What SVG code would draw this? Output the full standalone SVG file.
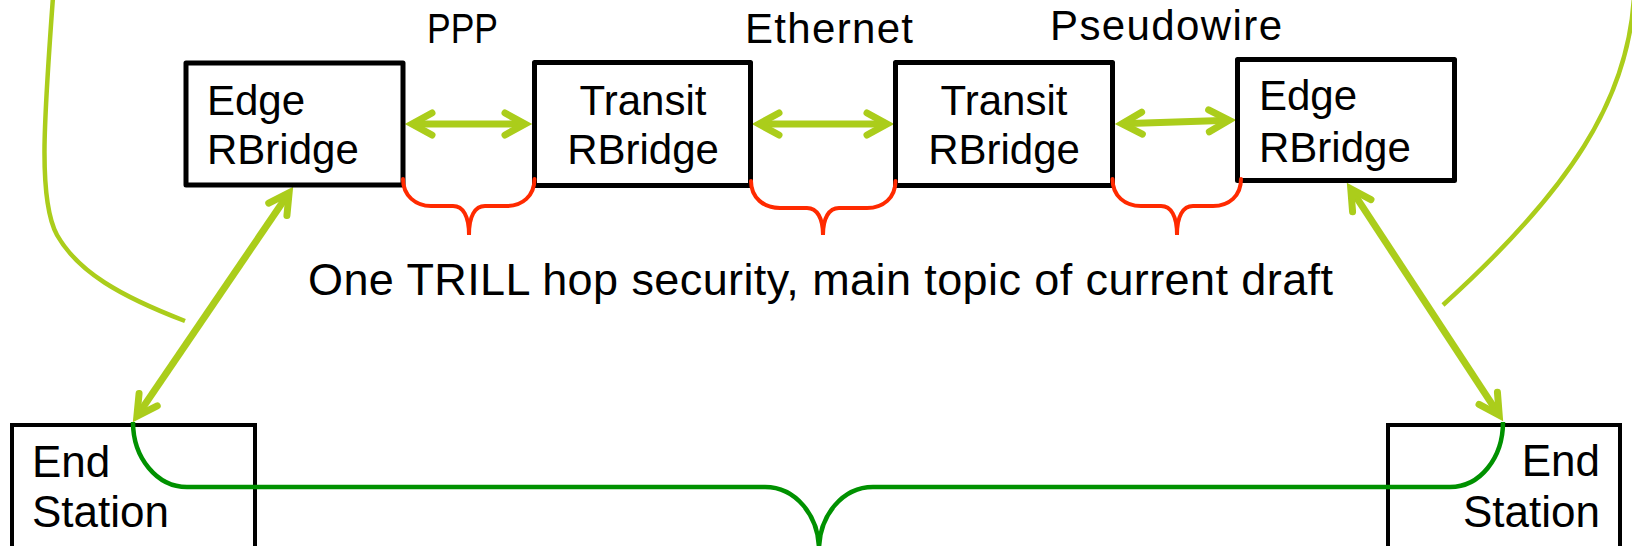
<svg xmlns="http://www.w3.org/2000/svg" width="1632" height="546" viewBox="0 0 1632 546">
<style>
.box{fill:#fff;stroke:#000;stroke-width:5;stroke-linejoin:round}
.es{fill:#fff;stroke:#000;stroke-width:4}
.lbl{font-family:"Liberation Sans",Arial,sans-serif;font-size:42px;fill:#000}
.big{font-size:44px}
.note{font-size:45px}
.link{fill:none;stroke:#abcd1b;stroke-width:7;marker-start:url(#chev);marker-end:url(#chev)}
.thin{fill:none;stroke:#abcd1b;stroke-width:4.5}
.brace{fill:none;stroke:#ff2a00;stroke-width:4;stroke-linecap:round}
.gbrace{fill:none;stroke:#009100;stroke-width:4.5}
</style>
<defs>
<marker id="chev" markerUnits="userSpaceOnUse" orient="auto-start-reverse" markerWidth="60" markerHeight="60" viewBox="-30 -30 60 60" refX="0" refY="0" overflow="visible">
<path d="M -20,-11 L 0,0 L -20,11" fill="none" stroke="#abcd1b" stroke-width="7" stroke-linecap="round" stroke-linejoin="miter"/>
</marker>
</defs>
<rect x="0" y="0" width="1632" height="546" fill="#fff"/>

<g id="connectors">
<path class="thin" d="M 53,-3 C 44,120 38,200 57,235 C 78,272 120,296 185,321"/>
<path class="thin" d="M 1634,-3 C 1628,100 1570,190 1443,305"/>
<path class="link" d="M 412,124 L 525,124"/>
<path class="link" d="M 759,124 L 887,124"/>
<path class="link" d="M 1122,123.8 L 1229,120.2"/>
<path class="link" d="M 289.1,192.8 L 136.9,416.2"/>
<path class="link" d="M 1350.8,188.9 L 1499.2,415.1"/>
</g>

<g id="edge-rbridge-1">
<rect class="box" x="186" y="63" width="217" height="122"/>
<text class="lbl" x="207" y="115">Edge</text>
<text class="lbl" x="207" y="164">RBridge</text>
</g>
<g id="transit-rbridge-1">
<rect class="box" x="534.5" y="62.5" width="216" height="123"/>
<text class="lbl" x="643" y="115" text-anchor="middle">Transit</text>
<text class="lbl" x="643" y="164" text-anchor="middle">RBridge</text>
</g>
<g id="transit-rbridge-2">
<rect class="box" x="895.5" y="62.5" width="217" height="123"/>
<text class="lbl" x="1004" y="115" text-anchor="middle">Transit</text>
<text class="lbl" x="1004" y="164" text-anchor="middle">RBridge</text>
</g>
<g id="edge-rbridge-2">
<rect class="box" x="1237.5" y="59.5" width="217" height="121"/>
<text class="lbl" x="1259" y="110">Edge</text>
<text class="lbl" x="1259" y="162">RBridge</text>
</g>
<g id="end-station-1">
<rect class="es" x="12" y="425" width="243" height="140"/>
<text class="lbl big" x="32" y="477">End</text>
<text class="lbl big" x="32" y="527">Station</text>
</g>
<g id="end-station-2">
<rect class="es" x="1388" y="425" width="232" height="140"/>
<text class="lbl big" x="1600" y="476" text-anchor="end">End</text>
<text class="lbl big" x="1600" y="527" text-anchor="end">Station</text>
</g>

<g id="braces">
<path class="brace" d="M 403,179 C 403,196 416,206 431,206 L 453,206 C 463,206 469,216 469,235 C 469,216 475,206 485,206 L 507,206 C 522,206 534.5,196 534.5,179"/>
<path class="brace" d="M 751,181 C 751,198 764,208 780,208 L 807,208 C 817,208 823,218 823,235 C 823,218 829,208 839,208 L 867,208 C 883,208 895.5,198 895.5,181"/>
<path class="brace" d="M 1112.5,179 C 1112.5,196 1125,206 1141,206 L 1161,206 C 1171,206 1177,216 1177,235 C 1177,216 1183,206 1193,206 L 1213,206 C 1229,206 1241,196 1241,179"/>
<path class="gbrace" d="M 133,422 C 133,458 157,487 187,487 L 765,487 C 795,487 819,515 819,550 C 819,515 843,487 873,487 L 1450,487 C 1480,487 1503,458 1503,422"/>
</g>

<g id="labels">
<text class="lbl" x="427" y="43" textLength="71" lengthAdjust="spacingAndGlyphs">PPP</text>
<text class="lbl" x="745" y="43" textLength="168">Ethernet</text>
<text class="lbl" x="1050" y="40" textLength="232">Pseudowire</text>
<text class="lbl note" x="308" y="295" textLength="1025">One TRILL hop security, main topic of current draft</text>
</g>
</svg>
